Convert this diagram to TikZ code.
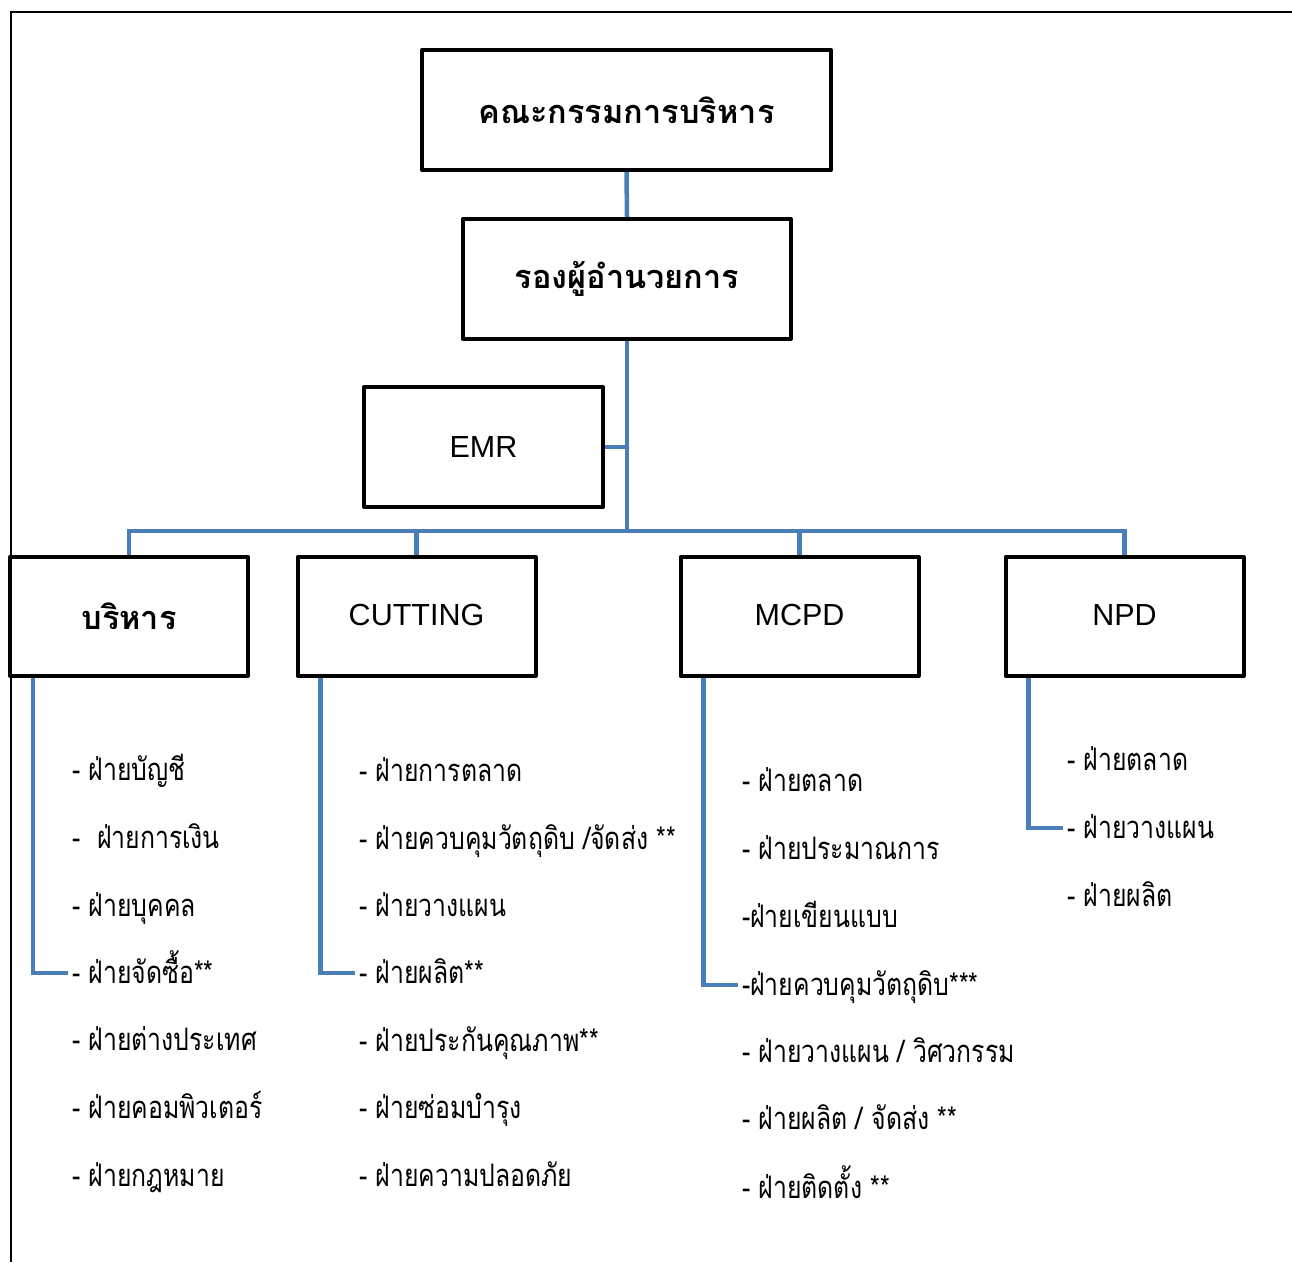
\documentclass[tikz,border=0pt]{standalone}
\usepackage{fontspec}
\setmainfont{Liberation Sans}
\newfontfamily\thai[Script=Thai,FakeStretch=0.8]{Loma}
\newfontfamily\thaib[Script=Thai]{Loma}
\definecolor{conn}{RGB}{74,126,187}
\begin{document}
\begin{tikzpicture}[x=1pt,y=-1pt,
  box/.style={draw=black,line width=4pt,line join=round,fill=white,inner sep=0pt,minimum width=238pt,minimum height=119pt},
  link/.style={draw=conn,line width=4.5pt},
  item/.style={anchor=west,inner sep=0pt,text height=26pt,text depth=6pt,font=\thai\fontsize{31}{36}\selectfont},
  ttl/.style={font=\thaib\bfseries\fontsize{32.5}{38}\selectfont},
  lat/.style={font=\fontsize{30.5}{36}\selectfont}]
\useasboundingbox (0,0) rectangle (1292,1262);
\fill[white] (0,0) rectangle (1292,1262);
\draw[line width=2.5pt] (11,1262) -- (11,12) -- (1292,12);
% boxes
\node[box,minimum width=409pt,minimum height=120pt,ttl] (top) at (626.5,110) {คณะกรรมการบริหาร};
\node[box,minimum width=328pt,minimum height=120pt,ttl] (vp) at (627,279) {รองผู้อำนวยการ};
\node[box,minimum width=239pt,minimum height=120pt,lat] (emr) at (483.5,447) {EMR};
\node[box,ttl] (adm) at (129,616.5) {บริหาร};
\node[box,lat,text height=22pt,text depth=4pt] (cut) at (416.5,616.5) {CUTTING};
\node[box,lat,text height=22pt,text depth=4pt] (mcpd) at (799.5,616.5) {MCPD};
\node[box,lat,text height=22pt,text depth=4pt] (npd) at (1124.5,616.5) {NPD};
\coordinate (bus) at (627,531);
% connectors
\draw[link] (top.south) -- (vp.north);
\draw[link] (vp.south) -- (bus);
\draw[link] (emr.east) -- (emr.east -| vp.south);
\draw[link] (adm.north) -- (adm.north |- bus) -- (npd.north |- bus) -- (npd.north);
\draw[link] (cut.north) -- (cut.north |- bus);
\draw[link] (mcpd.north) -- (mcpd.north |- bus);
% lists
\node[item] (a1) at (72,770) {- ฝ่ายบัญชี};
\node[item] (a2) at (72,838) {-\ \ ฝ่ายการเงิน};
\node[item] (a3) at (72,906) {- ฝ่ายบุคคล};
\node[item] (a4) at (72,973) {- ฝ่ายจัดซื้อ**};
\node[item] (a5) at (72,1040) {- ฝ่ายต่างประเทศ};
\node[item] (a6) at (72,1108) {- ฝ่ายคอมพิวเตอร์};
\node[item] (a7) at (72,1176) {- ฝ่ายกฎหมาย};
\node[item] (c1) at (359,771) {- ฝ่ายการตลาด};
\node[item] (c2) at (359,839) {- ฝ่ายควบคุมวัตถุดิบ /จัดส่ง **};
\node[item] (c3) at (359,906) {- ฝ่ายวางแผน};
\node[item] (c4) at (359,973) {- ฝ่ายผลิต**};
\node[item] (c5) at (359,1041) {- ฝ่ายประกันคุณภาพ**};
\node[item] (c6) at (359,1108) {- ฝ่ายซ่อมบำรุง};
\node[item] (c7) at (359,1176) {- ฝ่ายความปลอดภัย};
\node[item] (m1) at (742,781) {- ฝ่ายตลาด};
\node[item] (m2) at (742,849) {- ฝ่ายประมาณการ};
\node[item] (m3) at (742,917) {-ฝ่ายเขียนแบบ};
\node[item] (m4) at (742,985) {-ฝ่ายควบคุมวัตถุดิบ***};
\node[item] (m5) at (742,1052) {- ฝ่ายวางแผน / วิศวกรรม};
\node[item] (m6) at (742,1119) {- ฝ่ายผลิต / จัดส่ง **};
\node[item] (m7) at (742,1188) {- ฝ่ายติดตั้ง **};
\node[item] (n1) at (1067,760) {- ฝ่ายตลาด};
\node[item] (n2) at (1067,828) {- ฝ่ายวางแผน};
\node[item] (n3) at (1067,896) {- ฝ่ายผลิต};
% branch lines
\draw[link] ([xshift=25pt]adm.south west) |- ([xshift=-4pt]a4.west);
\draw[link] ([xshift=25pt]cut.south west) |- ([xshift=-4pt]c4.west);
\draw[link] ([xshift=25pt]mcpd.south west) |- ([xshift=-4pt]m4.west);
\draw[link] ([xshift=25pt]npd.south west) |- ([xshift=-4pt]n2.west);
\end{tikzpicture}
\end{document}
